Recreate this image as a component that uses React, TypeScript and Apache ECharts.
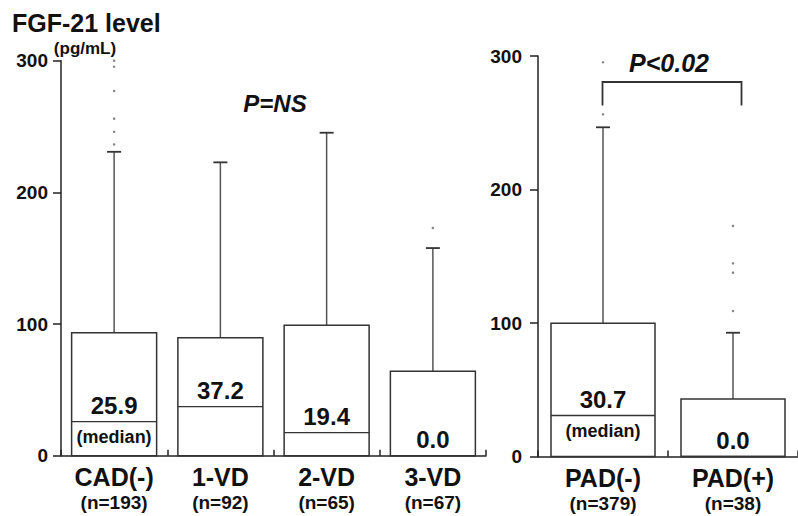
import React, { useEffect, useRef } from "react";
import * as echarts from "echarts";

// ---- Left panel (CAD groups) ----
const leftCategories = ["CAD(-)", "1-VD", "2-VD", "3-VD"];
const leftN = ["(n=193)", "(n=92)", "(n=65)", "(n=67)"];
const leftQ3 = [93.4, 89.6, 99.0, 64.1];
const leftMedian = [25.9, 37.2, 17.5, 0];
const leftMedianLabels = ["25.9", "37.2", "19.4", "0.0"];
const leftMedianNotes = ["(median)", "", "", ""];
const leftMax = [230.8, 222.8, 245.3, 157.7];
const leftOutliers: [number, number][] = [
  [0, 236.4], [0, 246], [0, 256], [0, 277], [0, 295.4], [0, 300],
  [3, 173],
];

// ---- Right panel (PAD groups) ----
const rightCategories = ["PAD(-)", "PAD(+)"];
const rightN = ["(n=379)", "(n=38)"];
const rightQ3 = [99.8, 43];
const rightMedian = [30.7, 0];
const rightMedianLabels = ["30.7", "0.0"];
const rightMedianNotes = ["(median)", ""];
const rightMax = [246.6, 92.7];
const rightOutliers: [number, number][] = [
  [0, 256.3], [0, 295.3],
  [1, 109], [1, 137.7], [1, 144.7], [1, 172.7],
];

const yTicks = { min: 0, max: 300, interval: 100 };

const FONT = '"Liberation Sans", Arial, Helvetica, sans-serif';
const INK = "#111";

function makeRenderItem(labels: string[], notes: string[]) {
  return (params: any, api: any) => {
    const i = api.value(0);
    const q3 = api.value(1);
    const med = api.value(2);
    const mx = api.value(3);
    const base = api.coord([i, 0]);
    const top = api.coord([i, q3]);
    const m = api.coord([i, med]);
    const w = api.coord([i, mx]);
    const band = api.size([1, 0])[0];
    const bw = band * 0.8;
    const x0 = base[0] - bw / 2;
    const capW = 14;
    const idx = params.dataIndex;
    const children: any[] = [
      {
        type: "line",
        shape: { x1: base[0], y1: top[1], x2: base[0], y2: w[1] },
        style: { stroke: "#555", lineWidth: 1.5 },
      },
      {
        type: "line",
        shape: { x1: base[0] - capW / 2, y1: w[1], x2: base[0] + capW / 2, y2: w[1] },
        style: { stroke: "#333", lineWidth: 1.8 },
      },
      {
        type: "rect",
        shape: { x: x0, y: top[1], width: bw, height: base[1] - top[1] },
        style: { fill: "#fff", stroke: "#333", lineWidth: 1.5 },
      },
      {
        type: "line",
        shape: { x1: x0, y1: m[1], x2: x0 + bw, y2: m[1] },
        style: { stroke: "#333", lineWidth: 1.3 },
      },
      {
        type: "text",
        style: {
          text: labels[idx],
          x: base[0],
          y: m[1] - 16,
          align: "center",
          verticalAlign: "middle",
          fontSize: 24,
          fontWeight: "bold",
          fontFamily: FONT,
          fill: INK,
        },
      },
    ];
    if (notes[idx]) {
      children.push({
        type: "text",
        style: {
          text: notes[idx],
          x: base[0],
          y: m[1] + 15,
          align: "center",
          verticalAlign: "middle",
          fontSize: 18,
          fontWeight: "bold",
          fontFamily: FONT,
          fill: INK,
        },
      });
    }
    return { type: "group", children };
  };
}

function catAxis(gridIndex: number, cats: string[], ns: string[]) {
  return {
    type: "category",
    gridIndex,
    data: cats.map((c, i) => `${c}\n${ns[i]}`),
    axisLine: { show: true, lineStyle: { color: "#222", width: 1.5 } },
    axisTick: { show: true, inside: true, length: 6, interval: 0, lineStyle: { color: "#222", width: 1.5 } },
    axisLabel: {
      interval: 0,
      margin: 8,
      formatter: (v: string) => {
        const [a, b] = v.split("\n");
        return `{a|${a}}\n{b|${b}}`;
      },
      rich: {
        a: { fontSize: 25, fontWeight: "bold", fontFamily: FONT, color: INK, lineHeight: 26 },
        b: { fontSize: 19, fontWeight: "bold", fontFamily: FONT, color: INK, lineHeight: 26 },
      },
    },
    splitLine: { show: false },
  };
}

function valAxis(gridIndex: number, margin: number) {
  return {
    type: "value",
    gridIndex,
    min: yTicks.min,
    max: yTicks.max,
    interval: yTicks.interval,
    axisLine: { show: true, lineStyle: { color: "#222", width: 1.5 } },
    axisTick: { show: true, length: 8, lineStyle: { color: "#222", width: 1.5 } },
    axisLabel: { fontSize: 19, fontWeight: "bold", fontFamily: FONT, color: INK, margin },
    splitLine: { show: false },
  };
}

export default function App() {
  const ref = useRef<HTMLDivElement>(null);
  useEffect(() => {
    if (!ref.current) return;
    const chart = echarts.init(ref.current, undefined, { renderer: "svg" });
    const leftData = leftCategories.map((_, i) => [i, leftQ3[i], leftMedian[i], leftMax[i]]);
    const rightData = rightCategories.map((_, i) => [i, rightQ3[i], rightMedian[i], rightMax[i]]);
    chart.setOption({
      animation: false,
      backgroundColor: "#fff",
      grid: [
        { left: 61, top: 60.7, width: 425, height: 395 },
        { left: 538, top: 56, width: 268, height: 400.5 },
      ],
      xAxis: [catAxis(0, leftCategories, leftN), catAxis(1, rightCategories, rightN)],
      yAxis: [valAxis(0, 13), valAxis(1, 16)],
      series: [
        {
          type: "custom",
          xAxisIndex: 0,
          yAxisIndex: 0,
          data: leftData,
          clip: false,
          encode: { x: 0, y: [1, 2, 3] },
          renderItem: makeRenderItem(leftMedianLabels, leftMedianNotes),
        },
        {
          type: "custom",
          xAxisIndex: 1,
          yAxisIndex: 1,
          data: rightData,
          clip: false,
          encode: { x: 0, y: [1, 2, 3] },
          renderItem: makeRenderItem(rightMedianLabels, rightMedianNotes),
        },
        {
          type: "scatter",
          xAxisIndex: 0,
          yAxisIndex: 0,
          data: leftOutliers,
          symbolSize: 2.5,
          itemStyle: { color: "#666" },
        },
        {
          type: "scatter",
          xAxisIndex: 1,
          yAxisIndex: 1,
          data: rightOutliers,
          symbolSize: 2.5,
          itemStyle: { color: "#666" },
        },
      ],
      graphic: [
        {
          type: "text",
          left: 12,
          top: 10,
          style: { text: "FGF-21 level", fontSize: 25, fontWeight: "bold", fontFamily: FONT, fill: INK },
        },
        {
          type: "text",
          x: 85,
          y: 48,
          style: {
            text: "(pg/mL)", fontSize: 17, fontWeight: "bold", fontFamily: FONT, fill: INK,
            align: "center", verticalAlign: "middle",
          },
        },
        {
          type: "text",
          x: 275,
          y: 103,
          style: {
            text: "P=NS", fontSize: 24, fontWeight: "bold", fontStyle: "italic", fontFamily: FONT, fill: INK,
            align: "center", verticalAlign: "middle",
          },
        },
        {
          type: "text",
          x: 669,
          y: 63,
          style: {
            text: "P<0.02", fontSize: 25, fontWeight: "bold", fontStyle: "italic", fontFamily: FONT, fill: INK,
            align: "center", verticalAlign: "middle",
          },
        },
        {
          type: "polyline",
          shape: { points: [[602.5, 105.5], [602.5, 82], [741.5, 82], [741.5, 105.5]] },
          style: { stroke: "#333", lineWidth: 1.8, fill: null },
        },
      ],
    });
    return () => chart.dispose();
  }, []);
  return <div ref={ref} style={{ width: 798, height: 516, position: "fixed", left: 0, top: 0 }} />;
}
